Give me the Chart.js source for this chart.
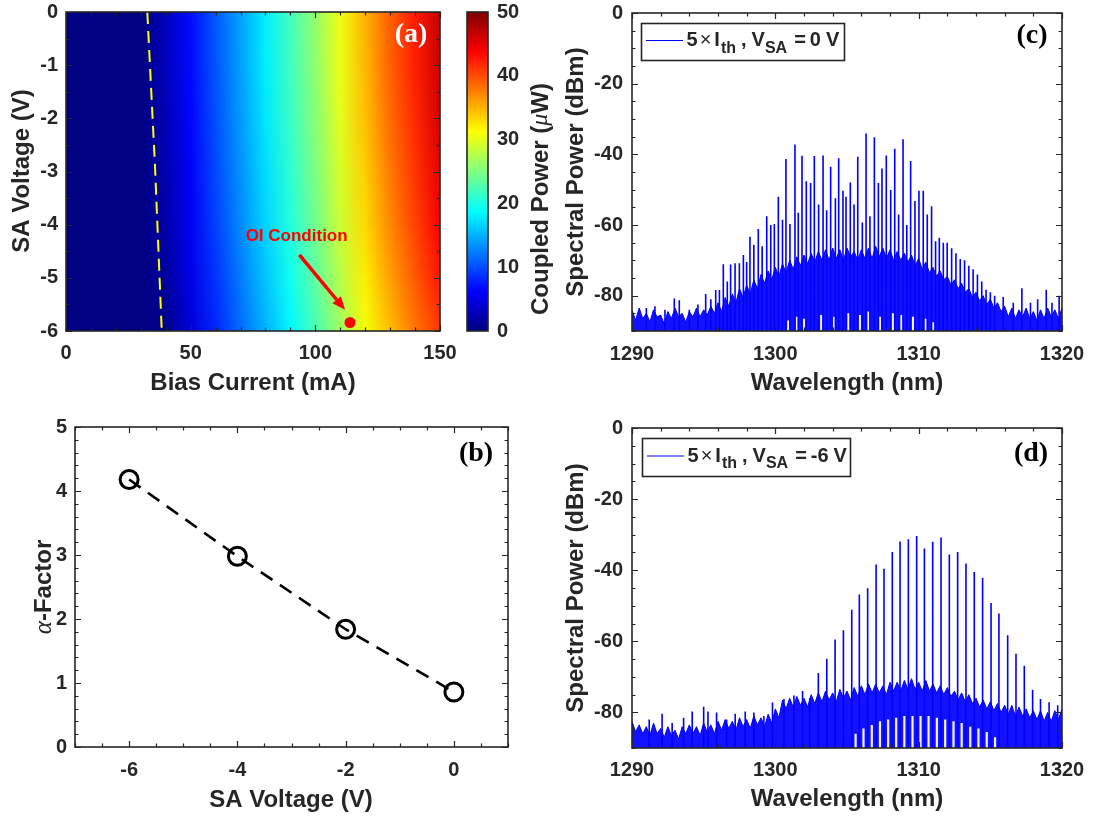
<!DOCTYPE html>
<html>
<head>
<meta charset="utf-8">
<script src="https://cdn.jsdelivr.net/npm/chart.js@4.4.0/dist/chart.umd.min.js"></script>
<style>
  html, body { margin: 0; padding: 0; background: #fff; }
  #wrap { position: relative; width: 1093px; height: 816px; overflow: hidden; }
  #wrap canvas { position: absolute; left: 0; top: 0; }
</style>
</head>
<body>
<div id="wrap">
  <canvas id="cvA" width="1093" height="816"></canvas>
  <canvas id="cvBar" width="1093" height="816"></canvas>
  <canvas id="cvB" width="1093" height="816"></canvas>
  <canvas id="cvC" width="1093" height="816"></canvas>
  <canvas id="cvD" width="1093" height="816"></canvas>
</div>
<script>
// ---------- panel (a): coupled power map ----------
var biasCurrent = [0, 10, 20, 30, 40, 50, 60, 70, 80, 90, 100, 110, 120, 130, 140, 150];
var saVoltageRows = [0, -1, -2, -3, -4, -5, -6];
var powerAt0V  = [0, 0, 0, 0, 3.0, 6.8, 10.5, 14.2, 18.0, 22.0, 26.0, 30.5, 35.0, 39.2, 42.5, 46.5];
var powerAtM1V = [0, 0, 0, 0, 2.9, 6.7, 10.4, 14.1, 17.9, 21.8, 25.8, 30.3, 34.8, 39.0, 42.3, 46.2];
var powerAtM2V = [0, 0, 0, 0, 2.7, 6.4, 10.1, 13.8, 17.6, 21.5, 25.4, 29.9, 34.4, 38.5, 41.8, 45.7];
var powerAtM3V = [0, 0, 0, 0, 2.3, 6.0, 9.8, 13.4, 17.1, 20.9, 24.9, 29.3, 33.7, 37.8, 41.2, 44.9];
var powerAtM4V = [0, 0, 0, 0, 2.0, 5.7, 9.4, 13.0, 16.7, 20.4, 24.3, 28.7, 33.1, 37.1, 40.5, 44.0];
var powerAtM5V = [0, 0, 0, 0, 1.4, 5.1, 8.7, 12.3, 15.9, 19.5, 23.4, 27.7, 32.1, 35.9, 39.4, 42.6];
var powerAtM6V = [0, 0, 0, 0, 0.7, 4.3, 8.0, 11.5, 15.0, 18.4, 22.3, 26.5, 30.8, 34.5, 38.0, 41.0];
var thresholdCurrent = [32.6, 34.2, 35.7, 38.4];
var thresholdVoltage = [0, -1.5, -2.9, -6];
var oiPoint = [113.9, -5.84];
var oiArrowFrom = [93.6, -4.57];
var oiArrowTo = [111.9, -5.6];
var oiLabelAt = [92.5, -4.22];
var aXTicks = [0, 50, 100, 150];
var aYTicks = [0, -1, -2, -3, -4, -5, -6];
var colorbarTicks = [0, 10, 20, 30, 40, 50];

// ---------- panel (b): alpha factor ----------
var saVoltageB = [-6, -4, -2, 0];
var alphaFactor = [4.18, 2.98, 1.84, 0.86];
var bXTicks = [-6, -4, -2, 0];
var bYTicks = [0, 1, 2, 3, 4, 5];

// ---------- panels (c) and (d): optical spectra ----------
var specXTicks = [1290, 1300, 1310, 1320];
var specYTicks = [0, -20, -40, -60, -80];
var bandWavelength = [
  1290, 1290.25, 1290.5, 1290.75, 1291, 1291.25, 1291.5, 1291.75, 1292, 1292.25,
  1292.5, 1292.75, 1293, 1293.25, 1293.5, 1293.75, 1294, 1294.25, 1294.5, 1294.75,
  1295, 1295.25, 1295.5, 1295.75, 1296, 1296.25, 1296.5, 1296.75, 1297, 1297.25,
  1297.5, 1297.75, 1298, 1298.25, 1298.5, 1298.75, 1299, 1299.25, 1299.5, 1299.75,
  1300, 1300.25, 1300.5, 1300.75, 1301, 1301.25, 1301.5, 1301.75, 1302, 1302.25,
  1302.5, 1302.75, 1303, 1303.25, 1303.5, 1303.75, 1304, 1304.25, 1304.5, 1304.75,
  1305, 1305.25, 1305.5, 1305.75, 1306, 1306.25, 1306.5, 1306.75, 1307, 1307.25,
  1307.5, 1307.75, 1308, 1308.25, 1308.5, 1308.75, 1309, 1309.25, 1309.5, 1309.75,
  1310, 1310.25, 1310.5, 1310.75, 1311, 1311.25, 1311.5, 1311.75, 1312, 1312.25,
  1312.5, 1312.75, 1313, 1313.25, 1313.5, 1313.75, 1314, 1314.25, 1314.5, 1314.75,
  1315, 1315.25, 1315.5, 1315.75, 1316, 1316.25, 1316.5, 1316.75, 1317, 1317.25,
  1317.5, 1317.75, 1318, 1318.25, 1318.5, 1318.75, 1319, 1319.25, 1319.5, 1319.75, 1320];

// (c) 5 x Ith, VSA = 0 V
var specCWavelength = [1291.0, 1291.6, 1292.3, 1292.95, 1293.3, 1294.0, 1294.6, 1295.14, 1295.5, 1295.84,
  1296.1, 1296.37, 1296.65, 1296.88, 1297.19, 1297.49, 1297.77, 1298.0, 1298.23, 1298.5,
  1298.81, 1299.08, 1299.4, 1299.68, 1299.93, 1300.21, 1300.5, 1300.74, 1301.02, 1301.37,
  1301.6, 1301.86, 1302.16, 1302.46, 1302.72, 1303.02, 1303.33, 1303.58, 1303.86, 1304.19,
  1304.42, 1304.72, 1304.93, 1305.23, 1305.49, 1305.75, 1306.07, 1306.33, 1306.6, 1306.91,
  1307.19, 1307.44, 1307.74, 1308.05, 1308.33, 1308.6, 1308.91, 1309.17, 1309.44, 1309.74,
  1310.02, 1310.32, 1310.6, 1310.9, 1311.18, 1311.44, 1311.72, 1311.99, 1312.3, 1312.6,
  1312.9, 1313.2, 1313.5, 1313.8, 1314.1, 1314.4, 1314.7, 1315.0, 1315.3, 1315.9,
  1316.6, 1317.2, 1317.8, 1318.3, 1318.9, 1319.3, 1319.8];
var specCPeak = [-83.5, -83, -84, -80.8, -81.3, -84, -82.5, -79.5, -81, -78.4,
  -78.4, -71.1, -76, -71.2, -70.8, -70.8, -68.5, -70.5, -63.3, -65.6,
  -61.1, -66, -57.5, -60, -59.7, -52, -58.5, -41.3, -59.7, -37.2,
  -56.5, -40.4, -47.6, -48.1, -40.5, -54.2, -40.3, -55.8, -43.5, -52.4,
  -41.1, -50.3, -52, -48, -54.2, -40.7, -59.3, -34.1, -57.5, -35.2,
  -48.1, -44, -40.3, -50.1, -38.4, -57, -35.7, -60, -41.9, -53.2,
  -50.3, -50.3, -57, -54.7, -64.6, -63.6, -65, -65, -66.6, -68,
  -69.6, -70, -71.5, -72.5, -74, -76, -78.3, -79, -80, -80.4,
  -82, -77.9, -82, -81, -78.3, -82, -80];
var specCBand = [
  -84, -87, -83.5, -86.5, -85, -87.5, -84, -86, -85.5, -88,
  -84.5, -86.5, -83.5, -86, -85, -87.5, -84.5, -86, -83.5, -86,
  -84, -85.5, -83, -85, -82, -84.5, -80.5, -83, -79.5, -82,
  -78, -80.5, -77, -79.5, -75.5, -78, -74, -76.5, -73, -75.5,
  -72, -74.5, -71, -73.5, -70, -72.5, -69, -71.5, -68.5, -71,
  -68, -70.5, -67.5, -70, -67, -70, -66.5, -69.5, -67, -70,
  -66.5, -69, -67.5, -70, -67, -69.5, -66.5, -69.5, -66, -69,
  -66.5, -69.5, -67, -70, -67.5, -70, -68, -70.5, -68.5, -71.5,
  -69.5, -72.5, -70.5, -73.5, -72, -74.5, -73, -75.5, -74.5, -77,
  -75.5, -78, -76.5, -79, -78, -80.5, -79, -81.5, -80, -82.5,
  -81, -83.5, -82, -84.5, -83, -86, -83.5, -86.5, -84, -86,
  -83.5, -86.5, -84.5, -87, -84, -86.5, -83.5, -86, -84, -86.5, -83.5];
var specCValleyWavelength = [1300.9, 1301.5, 1302.0, 1303.2, 1304.1, 1305.1, 1305.9, 1306.5,
  1307.3, 1308.2, 1308.8, 1309.6, 1310.5, 1311.0];
var specCValleyTop = [-87, -86, -86.5, -85.5, -86, -85, -85.5, -84.5,
  -86, -85, -85.5, -86, -86.5, -87.5];

// (d) 5 x Ith, VSA = -6 V
var specDWavelength = [1291.2, 1292.1, 1292.8, 1293.6, 1294.2, 1295.0, 1295.3, 1295.9, 1296.6, 1297.2,
  1297.9, 1298.5, 1299.2, 1299.8, 1300.6, 1301.3, 1301.9, 1302.4, 1303.0, 1303.59,
  1304.17, 1304.75, 1305.33, 1305.86, 1306.44, 1307.03, 1307.58, 1308.16, 1308.70, 1309.28,
  1309.86, 1310.40, 1310.98, 1311.56, 1312.14, 1312.72, 1313.30, 1313.88, 1314.46, 1315.05,
  1315.60, 1316.21, 1316.79, 1317.37, 1317.95, 1318.5, 1319.1, 1319.7];
var specDPeak = [-82, -80.4, -83, -81.5, -79.7, -78.4, -79.7, -80, -82, -80.4,
  -79.7, -80, -81, -77.2, -76.2, -75.2, -74, -76, -68.9, -64.9,
  -59.5, -56.9, -51.1, -46.8, -45.1, -38.4, -39.6, -34.9, -31.9, -31.3,
  -30.4, -33.9, -32.0, -30.8, -35.6, -34.9, -38.1, -40.5, -42.1, -49.2,
  -52.2, -58.3, -63.5, -66.9, -73.6, -76.2, -77.1, -78];
var specDBand = [
  -82.5, -85.5, -83.5, -86, -84, -86.5, -83, -86, -84.5, -87,
  -84, -86.5, -85, -87.5, -84, -86, -83.5, -86, -84, -86.5,
  -83, -85.5, -83.5, -86, -82.5, -85, -82, -84.5, -82.5, -85,
  -81.5, -84, -82, -84.5, -81, -83.5, -81.5, -84, -80.5, -83,
  -79, -81.5, -76.5, -79, -76, -78.5, -75.5, -78, -76, -78.5,
  -75, -77.5, -74.5, -77, -74, -76.5, -74.5, -77, -73.5, -76,
  -74, -76.5, -73, -75.5, -72.5, -75, -72, -74.5, -72, -74.5,
  -72.5, -75, -71.5, -74, -71.5, -74, -71, -73.5, -70.5, -73.5,
  -71.5, -74, -71, -74, -72, -74.5, -72.5, -75, -73, -75.5,
  -74, -76.5, -74.5, -77, -75, -77.5, -76, -78.5, -76.5, -79,
  -77, -79.5, -77.5, -80, -78, -80.5, -78, -81, -78.5, -81,
  -79, -81.5, -79.5, -82, -79.5, -82.5, -80, -82.5, -79.5, -82, -79];
var specDValleyWavelength = [1305.6, 1306.15, 1306.73, 1307.3, 1307.87, 1308.43, 1309.0, 1309.57, 1310.13,
  1310.69, 1311.27, 1311.85, 1312.43, 1313.0, 1313.6, 1314.17, 1314.75, 1315.33];
var specDValleyTop = [-86, -84.5, -83.5, -82.5, -82, -81.5, -81, -81, -81,
  -81, -81.5, -82, -82.5, -83, -84, -84.5, -85.5, -87];

var powerRows = [powerAt0V, powerAtM1V, powerAtM2V, powerAtM3V, powerAtM4V, powerAtM5V, powerAtM6V];
var colorbarMax = 50;
var specFloor = -90;

// ---------- styling ----------
var SANS = '"Liberation Sans", Arial, Helvetica, sans-serif';
var SERIF = '"Liberation Serif", "Times New Roman", serif';
var AXIS_COLOR = '#262626';
var TICK_FONT = 'bold 20px ' + SANS;
var TITLE_FONT = 'bold 24px ' + SANS;
var TAG_FONT = 'bold 28px ' + SERIF;
var SPEC_BLUE = 'rgb(0,0,255)';

function jet(t) {
  t = Math.max(0, Math.min(1, t));
  var c = function(v) {
    return Math.round(255 * Math.max(0, Math.min(1, 1.5 - Math.abs(4 * t - v))));
  };
  return 'rgb(' + c(3) + ',' + c(2) + ',' + c(1) + ')';
}

function points(xs, ys) {
  var n = Math.min(xs.length, ys.length), out = [];
  for (var i = 0; i < n; i++) out.push({x: xs[i], y: ys[i]});
  return out;
}

// vertical sticks from the floor up to each peak, broken by gaps
function sticks(xs, tops, floor) {
  var n = Math.min(xs.length, tops.length), out = [];
  for (var i = 0; i < n; i++) {
    out.push({x: xs[i], y: floor}, {x: xs[i], y: tops[i]}, {x: xs[i], y: null});
  }
  return out;
}

function stepValues(min, max, step) {
  var n = Math.round((max - min) / step), out = [];
  for (var k = 0; k <= n; k++) out.push(min + k * step);
  return out;
}

function drawRuns(ctx, runs, cx, cy, vertical) {
  ctx.save();
  ctx.translate(cx, cy);
  if (vertical) ctx.rotate(-Math.PI / 2);
  var total = 0;
  runs.forEach(function(r) { ctx.font = r.font; total += ctx.measureText(r.text).width; });
  var x = -total / 2;
  ctx.textBaseline = 'middle';
  ctx.textAlign = 'left';
  runs.forEach(function(r) {
    ctx.font = r.font;
    ctx.fillStyle = r.color || AXIS_COLOR;
    ctx.fillText(r.text, x, r.dy || 0);
    x += ctx.measureText(r.text).width;
  });
  ctx.restore();
}

function baseOptions(pad, xr, yr) {
  return {
    responsive: false,
    animation: false,
    events: [],
    layout: {padding: pad},
    plugins: {legend: {display: false}, tooltip: {enabled: false}},
    scales: {
      x: {type: 'linear', min: xr[0], max: xr[1], display: false},
      y: {type: 'linear', min: yr[0], max: yr[1], display: false}
    }
  };
}

// MATLAB-like box with inward ticks on all four sides, tick labels and titles
function axesFrame(cfg) {
  return {
    id: 'axesFrame',
    afterDatasetsDraw: function(chart) {
      var ctx = chart.ctx, a = chart.chartArea, x = chart.scales.x, y = chart.scales.y;
      ctx.save();
      ctx.strokeStyle = AXIS_COLOR;
      if (!cfg.noTicks) {
        ctx.lineWidth = 1.2;
        ctx.beginPath();
        var xTick = function(v, len) {
          var px = Math.round(x.getPixelForValue(v)) + 0.5;
          ctx.moveTo(px, a.bottom); ctx.lineTo(px, a.bottom - len);
          ctx.moveTo(px, a.top); ctx.lineTo(px, a.top + len);
        };
        var yTick = function(v, len) {
          var py = Math.round(y.getPixelForValue(v)) + 0.5;
          ctx.moveTo(a.left, py); ctx.lineTo(a.left + len, py);
          ctx.moveTo(a.right, py); ctx.lineTo(a.right - len, py);
        };
        stepValues(x.min, x.max, cfg.xMinor).forEach(function(v) { xTick(v, 3.5); });
        stepValues(y.min, y.max, cfg.yMinor).forEach(function(v) { yTick(v, 3.5); });
        cfg.xTicks.forEach(function(v) { xTick(v, 6); });
        cfg.yTicks.forEach(function(v) { yTick(v, 6); });
        ctx.stroke();
      }
      ctx.lineWidth = 1.6;
      ctx.strokeRect(a.left, a.top, a.right - a.left, a.bottom - a.top);
      ctx.restore();
    },
    afterDraw: function(chart) {
      var ctx = chart.ctx, a = chart.chartArea, x = chart.scales.x, y = chart.scales.y;
      ctx.save();
      ctx.fillStyle = AXIS_COLOR;
      ctx.font = TICK_FONT;
      ctx.textBaseline = 'middle';
      if (cfg.xTicks && !cfg.noXLabels) {
        ctx.textAlign = 'center';
        cfg.xTicks.forEach(function(v) {
          ctx.fillText(String(v), x.getPixelForValue(v), a.bottom + cfg.xLabelDy);
        });
      }
      if (cfg.yTicks) {
        if (cfg.yLabelsRight) {
          ctx.textAlign = 'left';
          cfg.yTicks.forEach(function(v) {
            ctx.fillText(String(v), a.right + cfg.yLabelGap, y.getPixelForValue(v));
          });
        } else {
          ctx.textAlign = 'right';
          cfg.yTicks.forEach(function(v) {
            ctx.fillText(String(v), a.left - cfg.yLabelGap, y.getPixelForValue(v));
          });
        }
      }
      ctx.restore();
      if (cfg.xTitle) drawRuns(ctx, cfg.xTitle.runs, cfg.xTitle.x, cfg.xTitle.y, false);
      if (cfg.yTitle) drawRuns(ctx, cfg.yTitle.runs, cfg.yTitle.x, cfg.yTitle.y, true);
      if (cfg.tag) {
        ctx.save();
        ctx.font = TAG_FONT;
        ctx.fillStyle = cfg.tag.color || '#000';
        ctx.textAlign = 'center';
        ctx.textBaseline = 'middle';
        ctx.fillText(cfg.tag.text, cfg.tag.x, cfg.tag.y);
        ctx.restore();
      }
      if (cfg.extra) cfg.extra(chart);
    }
  };
}

function plain(text) { return {text: text, font: TITLE_FONT}; }

// ---------- (a) heat map ----------
// each voltage row is a horizontal colour ramp; neighbouring rows are blended in thin strips
var heatmapPlugin = {
  id: 'heatmap',
  beforeDatasetsDraw: function(chart) {
    var ctx = chart.ctx, a = chart.chartArea, x = chart.scales.x, y = chart.scales.y;
    var x0 = x.getPixelForValue(biasCurrent[0]);
    var x1 = x.getPixelForValue(biasCurrent[biasCurrent.length - 1]);
    var ramps = powerRows.map(function(row) {
      var g = ctx.createLinearGradient(x0, 0, x1, 0);
      row.forEach(function(p, j) {
        g.addColorStop((x.getPixelForValue(biasCurrent[j]) - x0) / (x1 - x0), jet(p / colorbarMax));
      });
      return g;
    });
    ctx.save();
    ctx.beginPath();
    ctx.rect(a.left, a.top, a.right - a.left, a.bottom - a.top);
    ctx.clip();
    for (var i = 0; i < saVoltageRows.length - 1; i++) {
      var yA = y.getPixelForValue(saVoltageRows[i]);
      var yB = y.getPixelForValue(saVoltageRows[i + 1]);
      for (var yy = Math.floor(yA); yy < yB; yy += 2) {
        var f = Math.max(0, Math.min(1, (yy + 1 - yA) / (yB - yA)));
        ctx.globalAlpha = 1;
        ctx.fillStyle = ramps[i];
        ctx.fillRect(a.left, yy, a.right - a.left, 2);
        ctx.globalAlpha = f;
        ctx.fillStyle = ramps[i + 1];
        ctx.fillRect(a.left, yy, a.right - a.left, 2);
      }
    }
    ctx.restore();
  }
};

function drawOiAnnotation(chart) {
  var ctx = chart.ctx, x = chart.scales.x, y = chart.scales.y;
  var fx = x.getPixelForValue(oiArrowFrom[0]), fy = y.getPixelForValue(oiArrowFrom[1]);
  var tx = x.getPixelForValue(oiArrowTo[0]), ty = y.getPixelForValue(oiArrowTo[1]);
  var ang = Math.atan2(ty - fy, tx - fx), head = 13, half = 5.5;
  var bx = tx - head * Math.cos(ang), by = ty - head * Math.sin(ang);
  ctx.save();
  ctx.strokeStyle = '#ff0000';
  ctx.fillStyle = '#ff0000';
  ctx.lineWidth = 3.5;
  ctx.beginPath();
  ctx.moveTo(fx, fy);
  ctx.lineTo(bx, by);
  ctx.stroke();
  ctx.beginPath();
  ctx.moveTo(tx, ty);
  ctx.lineTo(bx + half * Math.sin(ang), by - half * Math.cos(ang));
  ctx.lineTo(bx - half * Math.sin(ang), by + half * Math.cos(ang));
  ctx.closePath();
  ctx.fill();
  ctx.font = 'bold 17px ' + SANS;
  ctx.textAlign = 'center';
  ctx.textBaseline = 'middle';
  ctx.fillText('OI Condition', x.getPixelForValue(oiLabelAt[0]), y.getPixelForValue(oiLabelAt[1]));
  ctx.restore();
}

new Chart(document.getElementById('cvA'), {
  type: 'line',
  data: {
    datasets: [
      {
        data: points(oiPoint.slice(0, 1), oiPoint.slice(1)),
        showLine: false,
        pointRadius: 5.5,
        pointBorderWidth: 0,
        pointBackgroundColor: '#ff0000'
      },
      {
        data: points(thresholdCurrent, thresholdVoltage),
        borderColor: 'rgb(255,255,0)',
        borderWidth: 2,
        borderDash: [12, 7],
        pointRadius: 0,
        tension: 0
      }
    ]
  },
  options: baseOptions({left: 66, top: 12, right: 653, bottom: 485}, [0, 150], [-6, 0]),
  plugins: [heatmapPlugin, axesFrame({
    xTicks: aXTicks, yTicks: aYTicks, xMinor: 10, yMinor: 0.5,
    xLabelDy: 22, yLabelGap: 8,
    xTitle: {runs: [plain('Bias Current (mA)')], x: 253, y: 383},
    yTitle: {runs: [plain('SA Voltage (V)')], x: 22, y: 171},
    tag: {text: '(a)', x: 411, y: 35, color: '#ffffff'},
    extra: drawOiAnnotation
  })]
});

// ---------- colour bar ----------
var colorbarPlugin = {
  id: 'colorbar',
  beforeDatasetsDraw: function(chart) {
    var ctx = chart.ctx, a = chart.chartArea, y = chart.scales.y;
    var y0 = y.getPixelForValue(0), y1 = y.getPixelForValue(colorbarMax);
    var g = ctx.createLinearGradient(0, y0, 0, y1);
    for (var k = 0; k <= 8; k++) g.addColorStop(k / 8, jet(k / 8));
    ctx.save();
    ctx.fillStyle = g;
    ctx.fillRect(a.left, a.top, a.right - a.left, a.bottom - a.top);
    ctx.restore();
  }
};

new Chart(document.getElementById('cvBar'), {
  type: 'line',
  data: {datasets: []},
  options: baseOptions({left: 467, top: 12, right: 605, bottom: 485}, [0, 1], [0, colorbarMax]),
  plugins: [colorbarPlugin, axesFrame({
    noTicks: true, noXLabels: true,
    yTicks: colorbarTicks, yLabelsRight: true, yLabelGap: 9,
    yTitle: {runs: [plain('Coupled Power ('), {text: '\u03bc', font: 'italic 24px ' + SERIF}, plain('W)')], x: 541, y: 199}
  })]
});

// ---------- (b) alpha factor ----------
new Chart(document.getElementById('cvB'), {
  type: 'line',
  data: {
    datasets: [{
      data: points(saVoltageB, alphaFactor),
      borderColor: '#000',
      borderWidth: 2.6,
      borderDash: [14, 9],
      tension: 0,
      pointRadius: 9,
      pointBorderWidth: 3,
      pointBorderColor: '#000',
      pointBackgroundColor: 'rgba(0,0,0,0)'
    }]
  },
  options: baseOptions({left: 75, top: 427, right: 585, bottom: 69}, [-7, 1], [0, 5]),
  plugins: [axesFrame({
    xTicks: bXTicks, yTicks: bYTicks, xMinor: 0.5, yMinor: 0.2,
    xLabelDy: 23, yLabelGap: 8,
    xTitle: {runs: [plain('SA Voltage (V)')], x: 291, y: 800},
    yTitle: {runs: [{text: '\u03b1', font: 'italic 25px ' + SERIF}, plain('-Factor')], x: 44, y: 587},
    tag: {text: '(b)', x: 476, y: 454}
  })]
});

// ---------- (c), (d) spectra ----------
function legendDrawer(box, valueText) {
  return function(chart) {
    var ctx = chart.ctx;
    ctx.save();
    ctx.fillStyle = '#fff';
    ctx.fillRect(box.x, box.y, box.w, box.h);
    ctx.strokeStyle = AXIS_COLOR;
    ctx.lineWidth = 1.6;
    ctx.strokeRect(box.x + 0.5, box.y + 0.5, box.w, box.h);
    var my = box.y + box.h / 2 - 1;
    ctx.strokeStyle = SPEC_BLUE;
    ctx.lineWidth = 1.2;
    ctx.beginPath();
    ctx.moveTo(box.x + 5, my);
    ctx.lineTo(box.x + 42, my);
    ctx.stroke();
    var big = 'bold 20px ' + SANS, small = 'bold 16px ' + SANS, sym = '20px ' + SANS;
    var runs = [
      [' 5', big, 0, 2], ['\u00d7', sym, 0, 3], ['I', big, 0, 1], ['th', small, 8, 5],
      [',', big, 0, 5], ['V', big, 0, 0], ['SA', small, 8, 7], ['=', big, 0, 4],
      [valueText, big, 0, 5], ['V', big, 0, 0]
    ];
    var xx = box.x + 40;
    ctx.fillStyle = AXIS_COLOR;
    ctx.textBaseline = 'middle';
    ctx.textAlign = 'left';
    runs.forEach(function(r) {
      ctx.font = r[1];
      ctx.fillText(r[0], xx, my + r[2]);
      xx += ctx.measureText(r[0]).width + r[3];
    });
    ctx.restore();
  };
}

function spectrumChart(id, pad, wl, peaks, band, valleyWl, valleyTop, cfg) {
  var sets = [
    {
      data: sticks(wl, peaks, specFloor),
      borderColor: SPEC_BLUE,
      borderWidth: 1.6,
      pointRadius: 0,
      spanGaps: false,
      tension: 0,
      order: 0
    },
    {
      data: sticks(valleyWl, valleyTop, specFloor),
      borderColor: 'rgba(255,255,255,0.95)',
      borderWidth: 2.2,
      pointRadius: 0,
      spanGaps: false,
      tension: 0,
      order: 1
    },
    {
      data: points(bandWavelength, band),
      borderColor: SPEC_BLUE,
      borderWidth: 1,
      backgroundColor: 'rgba(0,0,255,0.93)',
      fill: {value: specFloor},
      pointRadius: 0,
      tension: 0,
      order: 2
    }
  ];
  new Chart(document.getElementById(id), {
    type: 'line',
    data: {datasets: sets},
    options: baseOptions(pad, [1290, 1320], [-90, 0]),
    plugins: [axesFrame(cfg)]
  });
}

spectrumChart('cvC', {left: 632, top: 13, right: 31, bottom: 485},
  specCWavelength, specCPeak, specCBand, specCValleyWavelength, specCValleyTop, {
    xTicks: specXTicks, yTicks: specYTicks, xMinor: 2, yMinor: 5,
    xLabelDy: 23, yLabelGap: 9,
    xTitle: {runs: [plain('Wavelength (nm)')], x: 847, y: 383},
    yTitle: {runs: [plain('Spectral Power (dBm)')], x: 576, y: 172},
    tag: {text: '(c)', x: 1032, y: 36},
    extra: legendDrawer({x: 641, y: 23, w: 203, h: 37}, '0')
  });

spectrumChart('cvD', {left: 632, top: 428, right: 31, bottom: 68},
  specDWavelength, specDPeak, specDBand, specDValleyWavelength, specDValleyTop, {
    xTicks: specXTicks, yTicks: specYTicks, xMinor: 2, yMinor: 5,
    xLabelDy: 22, yLabelGap: 9,
    xTitle: {runs: [plain('Wavelength (nm)')], x: 847, y: 799},
    yTitle: {runs: [plain('Spectral Power (dBm)')], x: 576, y: 588},
    tag: {text: '(d)', x: 1031, y: 454},
    extra: legendDrawer({x: 642, y: 438, w: 208, h: 38}, '-6')
  });
</script>
</body>
</html>
